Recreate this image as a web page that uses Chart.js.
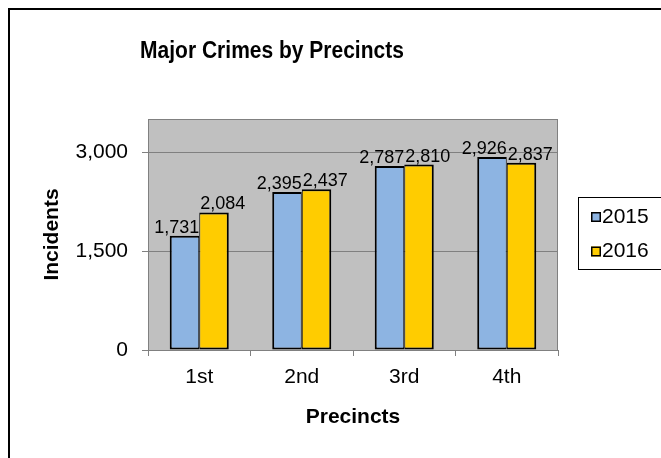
<!DOCTYPE html>
<html>
<head>
<meta charset="utf-8">
<script src="https://cdn.jsdelivr.net/npm/chart.js@4/dist/chart.umd.min.js"></script>
<style>
  html, body { margin:0; padding:0; background:#fff; }
  #wrap { width:661px; height:458px; }
</style>
</head>
<body>
<div id="wrap"><canvas id="crimeChart" width="661" height="458"></canvas></div>
<script>
const precincts = ['1st', '2nd', '3rd', '4th'];
const seriesNames = ['2015', '2016'];
const incidents2015 = [1731, 2395, 2787, 2926];
const incidents2016 = [2084, 2437, 2810, 2837];
const yTickValues = [0, 1500, 3000];
const yMax = 3500;

const FONT = '"Liberation Sans", Arial, sans-serif';
const fmt = v => Number(v).toLocaleString('en-US');

// background, outer frame, plot area fill
const frame = {
  id: 'frame',
  beforeDraw(chart) {
    const { ctx, chartArea: a } = chart;
    ctx.save();
    ctx.fillStyle = '#fff';
    ctx.fillRect(0, 0, chart.width, chart.height);
    ctx.strokeStyle = '#000';
    ctx.lineWidth = 2;
    ctx.strokeRect(9, 9, 700, 500);
    ctx.fillStyle = '#C0C0C0';
    ctx.fillRect(a.left, a.top, a.right - a.left, a.bottom - a.top);
    ctx.restore();
  },
  beforeDatasetsDraw(chart) {
    const { ctx, chartArea: a } = chart;
    ctx.save();
    ctx.strokeStyle = '#808080';
    ctx.lineWidth = 1;
    ctx.strokeRect(a.left + 0.5, a.top + 0.5, a.right - a.left - 1, a.bottom - a.top);
    ctx.restore();
  },
  afterDraw(chart) {
    const { ctx } = chart;
    ctx.save();
    // title (source image is slightly stretched vertically)
    ctx.translate(272, 51);
    ctx.scale(1, 1.18);
    ctx.font = 'bold 21px ' + FONT;
    ctx.fillStyle = '#000';
    ctx.textAlign = 'center';
    ctx.textBaseline = 'middle';
    ctx.fillText('Major Crimes by Precincts', 0, 0);
    ctx.restore();

    // legend
    ctx.save();
    ctx.strokeStyle = '#000';
    ctx.lineWidth = 1;
    ctx.strokeRect(578.5, 197.5, 120, 72);
    ctx.font = '21px ' + FONT;
    ctx.textBaseline = 'middle';
    ctx.textAlign = 'left';
    chart.data.datasets.forEach((ds, i) => {
      const cy = 217 + i * 34.5;
      ctx.fillStyle = ds.backgroundColor;
      ctx.fillRect(591, cy - 5, 10, 10);
      ctx.strokeStyle = '#000';
      ctx.lineWidth = 1.5;
      ctx.strokeRect(591.75, cy - 4.25, 8.5, 8.5);
      ctx.fillStyle = '#000';
      ctx.fillText(ds.label, 602, cy);
    });
    ctx.restore();
  },
  afterDatasetsDraw(chart) {
    const { ctx } = chart;
    ctx.save();
    ctx.font = '18px ' + FONT;
    ctx.fillStyle = '#000';
    ctx.textBaseline = 'alphabetic';
    chart.data.datasets.forEach((ds, i) => {
      chart.getDatasetMeta(i).data.forEach((bar, j) => {
        const half = bar.width / 2;
        if (i === 0) {
          ctx.textAlign = 'right';
          ctx.fillText(fmt(ds.data[j]), bar.x + half, bar.y - 3);
        } else {
          ctx.textAlign = 'left';
          ctx.fillText(fmt(ds.data[j]), bar.x - half + 1, bar.y - 3);
        }
      });
    });
    ctx.restore();
  }
};

new Chart(document.getElementById('crimeChart'), {
  type: 'bar',
  data: {
    labels: precincts,
    datasets: [
      { label: seriesNames[0], data: incidents2015, backgroundColor: '#8DB4E2', borderColor: '#000',
        borderWidth: { top: 2, left: 2, right: 1, bottom: 2 }, borderSkipped: false },
      { label: seriesNames[1], data: incidents2016, backgroundColor: '#FFCC00', borderColor: '#000',
        borderWidth: { top: 2, left: 1, right: 2, bottom: 2 }, borderSkipped: false }
    ]
  },
  options: {
    responsive: false,
    devicePixelRatio: 1,
    animation: false,
    categoryPercentage: 0.576,
    barPercentage: 1.0,
    layout: { padding: { top: 119, right: 103, left: 0, bottom: 0 } },
    plugins: { legend: { display: false }, title: { display: false }, tooltip: { enabled: false } },
    scales: {
      x: {
        afterFit: s => { s.height = 108; },
        grid: { display: true, drawOnChartArea: false, drawTicks: true, tickLength: 6, color: '#808080' },
        border: { display: true, color: '#808080' },
        ticks: { color: '#000', padding: 9, font: { family: FONT, size: 21 } },
        title: { display: true, text: 'Precincts', color: '#000',
                 font: { family: FONT, size: 21, weight: 'bold' }, padding: { top: 0, bottom: 28 } }
      },
      y: {
        min: 0,
        max: yMax,
        afterFit: s => { s.width = 148; },
        afterBuildTicks: s => { s.ticks = yTickValues.map(v => ({ value: v })); },
        grid: { color: '#808080', tickLength: 6, drawTicks: true },
        border: { display: true, color: '#808080' },
        ticks: { color: '#000', padding: 14, font: { family: FONT, size: 21 }, callback: v => fmt(v) },
        title: { display: true, text: 'Incidents', color: '#000',
                 font: { family: FONT, size: 21, weight: 'bold' }, padding: { top: 40, bottom: 0 } }
      }
    }
  },
  plugins: [frame]
});
</script>
</body>
</html>
